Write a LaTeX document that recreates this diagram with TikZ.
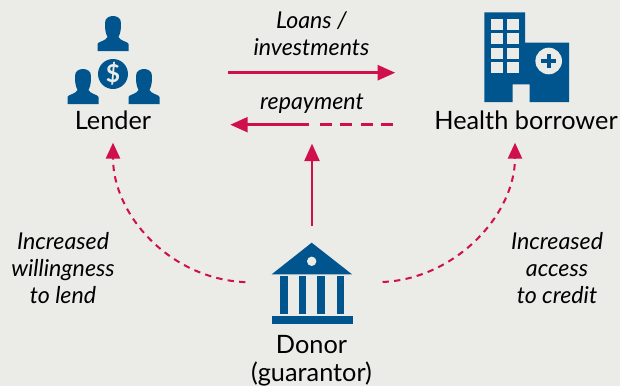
\documentclass[tikz,border=0pt]{standalone}
\usepackage{fontspec}
\setmainfont{Lato}
\usetikzlibrary{arrows.meta, calc}
\definecolor{paper}{HTML}{EBEBE7}
\definecolor{iconblue}{HTML}{00558F}
\definecolor{flowred}{HTML}{D0104C}
\newcommand{\px}{0.5669pt}
\tikzset{
  party/.style={font=\fontsize{14.4}{15.7}\selectfont, align=center, inner sep=0pt, text=black},
  flowtext/.style={font=\fontsize{13.2}{15.3}\selectfont\itshape, align=center, inner sep=0pt, text=black},
  iconbox/.style={inner sep=0pt, minimum width=#1*\px, minimum height=88*\px},
  flow/.style={draw=flowred, line width=1.7pt},
  flowtip/.style={flow, -{Triangle[length=10pt, width=8.4pt, fill=flowred]}},
  softtip/.style={draw=flowred, line width=1.15pt, dash pattern=on 3.6pt off 3pt,
    -{Triangle[length=9pt, width=8pt, fill=flowred, sep=0pt]}},
  person/.pic={
    \fill [iconblue] (-15.5,-35) -- (-15.5,-28) .. controls (-15,-25.5) and (-7,-25) .. (-5.5,-21)
      .. controls (-8,-16) and (-8,-12) .. (-8,-7) .. controls (-8,-2) and (-4,0) .. (0,0)
      .. controls (4,0) and (8,-2) .. (8,-7) .. controls (8,-12) and (8,-16) .. (5.5,-21)
      .. controls (7,-25) and (15,-25.5) .. (15.5,-28) -- (15.5,-35) -- cycle;
  }
}
\begin{document}
\begin{tikzpicture}[x=0.02cm, y=0.02cm]
\fill [paper] (0,0) rectangle (620,-386);
\useasboundingbox (0,0) rectangle (620,-386);
% lender icon
\pic at (113,-16) {person};
\pic at (83,-69) {person};
\pic at (144,-69) {person};
\fill [iconblue] (113,-74) circle (15);
\node [inner sep=0pt, text=paper, font=\fontsize{14}{14}\selectfont\bfseries] (dollar) at (113,-74) {\$};
% hospital icon
\fill [iconblue] (484.3,-12.3) -- (525,-12.3) -- (525,-42.7) -- (569,-42.7) -- (569,-102)
  -- (529.7,-102) -- (529.7,-84.3) -- (512.7,-84.3) -- (512.7,-102) -- (484.3,-102) -- cycle;
\foreach \wx in {491.3,507.3}
  \foreach \wy in {19,33.3,47.7,62}
    \fill [paper] (\wx,-\wy) rectangle ++(12,-11);
\fill [paper] (548.7,-61) circle (13.3);
\fill [iconblue] (541.4,-58.8) rectangle (556,-63.2);
\fill [iconblue] (546.5,-53.7) rectangle (550.9,-68.3);
% bank icon
\fill [iconblue] (311.7,-242.7) -- (352,-274.3) -- (271.7,-274.3) -- cycle;
\fill [paper] (311.7,-261.3) circle (4.7);
\foreach \cx in {280,298.7,317.3,336.7}
  \fill [iconblue] (\cx,-276) rectangle ++(7.6,-38);
\fill [iconblue] (271.7,-316) rectangle (352.7,-323.7);
% boxes round the icons
\node [iconbox=92] (lendericon) at (113,-72.7) {};
\node [iconbox=85] (hospital) at (526.6,-72.7) {};
\node [iconbox=81] (bank) at (312,-283.2) {};
% names
\node [party] (lender) at (113,-120) {Lender};
\node [party] (borrower) at (526,-120) {Health borrower};
\node [party] (donor) at (311.5,-361) {Donor\\(guarantor)};
% flow labels
\node [flowtext] (loans) at (311.5,-34) {Loans /\\investments};
\node [flowtext] (repay) at (312,-103.5) {repayment};
\node [flowtext] (willing) at (63,-268) {Increased\\willingness\\to lend};
\node [flowtext] (access) at (557,-268) {Increased\\access\\to credit};
% connectors
\coordinate (paysplit) at (309,-124.7);
\draw [flowtip, shorten <=69*\px, shorten >=89*\px] (lendericon) -- (hospital);
\draw [flow, dash pattern=on 6.8pt off 4.8pt, shorten <=41*\px, shorten >=11*\px] (borrower.west |- paysplit) -- (paysplit);
\draw [flowtip, shorten >=79*\px] (paysplit) -- (lender.east |- paysplit);
\draw [flowtip, shorten <=13*\px, shorten >=30*\px] (bank.north) -- (repay.south);
\draw [softtip, shorten <=26*\px, shorten >=13*\px] (bank.west) .. controls (170,-279) and (113,-215) .. (lender.south);
\draw [softtip, shorten <=30*\px, shorten >=13*\px] (bank.east) .. controls (455,-279) and (515,-215) .. (borrower.south -| 515,-120);
\end{tikzpicture}
\end{document}
